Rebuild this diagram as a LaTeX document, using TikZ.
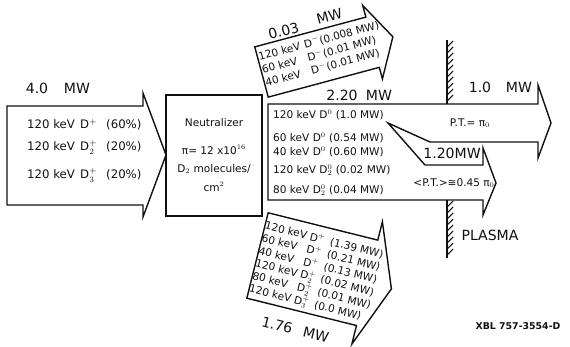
\documentclass[tikz,border=0pt]{standalone}
\usepackage{fontspec}
\setmainfont{DejaVu Sans}
\definecolor{ink}{HTML}{111111}

\begin{document}
\begin{tikzpicture}[
    x=0.03cm, y=-0.03cm,
    every node/.style={text=ink, inner sep=0pt},
    beam/.style={draw=ink, line width=1.2pt, line join=miter},
    lab/.style={font=\large},
    txt/.style={font=\small, anchor=base west},
    big/.style={font=\normalsize, anchor=base west},
    wall/.style={draw=ink, line width=2.2pt},
    hatch/.style={draw=ink, line width=0.9pt},
]
\useasboundingbox (0,0) rectangle (570,347);

% ============================================================ the injected ions
\draw[beam] (7,106) -- (143,106) -- (143,93) -- (166,155) -- (143,217) -- (143,205) -- (7,205) -- cycle;
\node[lab] (inW) at (37,88) {4.0};
\node[lab] (inU) at (77,88) {MW};
\foreach \y/\ion/\pc [count=\i] in {129/{D$^{+}$}/60, 151/{D$^{+}_{2}$}/20, 179/{D$^{+}_{3}$}/20}{
    \node[big] (inE\i) at (27,\y) {120 keV};
    \node[big] (inD\i) at (80,\y) {\ion};
    \node[big] (inP\i) at (106,\y) {(\pc\%)};
}

% ============================================================ the gas cell
\node[draw=ink, line width=1.2pt, minimum width=2.88cm, minimum height=3.63cm] (cell) at (214,155.5) {};
\node[font=\small] (cellA) at (214,123) {Neutralizer};
\node[font=\small] (cellB) at (214,150) {π= 12 x10$^{16}$};
\node[font=\small] (cellC) at (214,169) {D$_2$ molecules/};
\node[font=\small] (cellD) at (214,187) {cm$^2$};

% ============================================================ the beam that leaves the cell
\draw[beam] (268,104) -- (538,104) -- (538,85) -- (551,123) -- (538,158) -- (538,142)
    -- (430,142) -- (388,123) -- (425,165) -- (483,165) -- (483,148) -- (496,183)
    -- (483,215) -- (483,200) -- (268,200) -- cycle;
\node[lab] (outW) at (342,95) {2.20};
\node[lab] (outU) at (379,95) {MW};
\foreach \y/\en/\ion/\pw [count=\i] in {119/120/{D$^{0}$}/1.0, 142/60/{D$^{0}$}/0.54,
        156/40/{D$^{0}$}/0.60, 174/120/{D$^{0}_{2}$}/0.02, 194/80/{D$^{0}_{2}$}/0.04}{
    \node[txt] (out\i) at (273,\y) {\en\ keV \ion\ (\pw\ MW)};
}

% the two parts at the plasma
\node[lab] (fullW) at (480,87) {1.0};
\node[lab] (fullU) at (519,87) {MW};
\node[font=\small] (fullPT) at (470,123) {P.T.= π$_0$};
\node[lab] (partW) at (452,153) {1.20MW};
\node[font=\small] (partPT) at (454,183) {<P.T.>≅0.45 π$_0$};

% ============================================================ the plasma wall
\draw[wall] (447,40) -- (447,104);
\foreach \y in {47,53,...,101}{
    \draw[hatch] (447,\y) -- (453,\y-6);
}
\draw[wall] (447,200) -- (447,258);
\foreach \y in {207,213,...,257}{
    \draw[hatch] (447,\y) -- (453,\y-6);
}
\node[lab] (plasma) at (490,235) {PLASMA};

% ============================================================ negative ions, leaving upward
\begin{scope}[shift={(261.5,72)}, rotate=15, transform shape]
\draw[beam] (0,-26) -- (115,-26) -- (115,-38) -- (136,0) -- (115,38) -- (115,26) -- (0,26) -- cycle;
\node[lab] (negW) at (32,-34) {0.03};
\node[lab] (negU) at (80,-36) {MW};
\foreach \b/\en/\pw [count=\i] in {-11.5/120/0.008, 2/60/0.01, 15.5/40/0.01}{
    \node[txt] (negE\i) at (1,\b) {\en\ keV};
    \node[txt] (negD\i) at (48,\b) {D$^{-}$};
    \node[txt] (negP\i) at (64,\b) {(\pw\ MW)};
}
\end{scope}

% ============================================================ positive ions, leaving downward
\begin{scope}[shift={(257.5,255.5)}, rotate=-14, transform shape]
\draw[beam] (0,-44) -- (113,-44) -- (113,-63) -- (138,0) -- (113,63) -- (113,44) -- (0,44) -- cycle;
\node[lab] (posW) at (36,63) {1.76};
\node[lab] (posU) at (76,63) {MW};
\foreach \b/\en/\ion/\pw [count=\i] in {-27.5/120/{D$^{+}$}/1.39, -14.5/60/{D$^{+}$}/0.21,
        -1.5/40/{D$^{+}$}/0.13, 11.5/120/{D$^{+}_{2}$}/0.02, 24.5/80/{D$^{+}_{2}$}/0.01,
        37.5/120/{D$^{+}_{3}$}/0.0}{
    \node[txt] (posE\i) at (0,\b) {\en\ keV};
    \node[txt] (posD\i) at (46,\b) {\ion};
    \node[txt] (posP\i) at (67,\b) {(\pw\ MW)};
}
\end{scope}

\node[font=\footnotesize\bfseries] (xbl) at (518,326) {XBL 757-3554-D};

\end{tikzpicture}
\end{document}
